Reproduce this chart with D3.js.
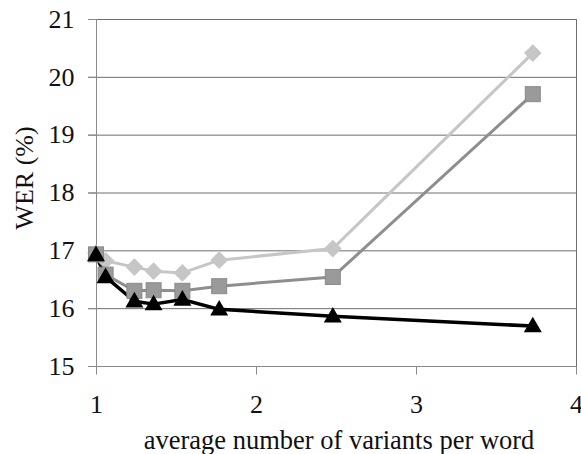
<!DOCTYPE html>
<html>
<head>
<meta charset="utf-8">
<script src="https://cdn.jsdelivr.net/npm/d3@7"></script>
<style>
html,body{margin:0;padding:0;background:#fff;}
svg{display:block;}
</style>
</head>
<body>
<svg id="chart" width="581" height="454"></svg>
<script>
const xValues = [1.0, 1.06, 1.24, 1.36, 1.54, 1.77, 2.48, 3.73];
const diamondValues = [16.95, 16.82, 16.71, 16.64, 16.61, 16.83, 17.03, 20.41];
const squareValues = [16.93, 16.58, 16.30, 16.31, 16.30, 16.38, 16.54, 19.70];
const triangleValues = [16.92, 16.54, 16.12, 16.07, 16.15, 15.98, 15.86, 15.69];
const xTicks = [1, 2, 3, 4];
const yTicks = [15, 16, 17, 18, 19, 20, 21];
const xTitle = "average number of variants per word";
const yTitle = "WER (%)";

(function () {
const FONT = '"Liberation Serif"';
const svg = d3.select("#chart");
const pLeft = 96, pRight = 576, pTop = 19, pBottom = 366;
const x = d3.scaleLinear().domain([1, 4]).range([pLeft, pRight]);
const y = d3.scaleLinear().domain([15, 21]).range([pBottom, pTop]);

// gridlines
svg.append("g").selectAll("line").data(yTicks.filter(d => d > 15)).join("line")
  .attr("x1", pLeft - 8).attr("x2", pRight)
  .attr("y1", d => y(d) + 0.5).attr("y2", d => y(d) + 0.5)
  .attr("stroke", "#6e6e6e").attr("stroke-width", 1);

// right border
svg.append("line").attr("x1", pRight + 0.5).attr("x2", pRight + 0.5)
  .attr("y1", pTop).attr("y2", pBottom + 8).attr("stroke", "#6e6e6e");

// y axis
const yAxis = svg.append("g").attr("transform", `translate(${pLeft + 0.5},0)`)
  .call(d3.axisLeft(y).tickValues(yTicks).tickSize(8).tickPadding(14).tickFormat(d3.format("d")));
yAxis.attr("font-family", null).attr("font-size", null);
yAxis.select(".domain").attr("stroke", "#8a8a8a").attr("d", `M0,${pTop}V${pBottom + 8}`);
yAxis.selectAll(".tick line").attr("stroke", "#8a8a8a");
yAxis.selectAll("text").style("font-family", FONT).style("font-size", "26px").attr("fill", "#111");

// x axis
const xAxis = svg.append("g").attr("transform", `translate(0,${pBottom + 0.5})`)
  .call(d3.axisBottom(x).tickValues(xTicks).tickSize(8).tickPadding(20).tickFormat(d3.format("d")));
xAxis.attr("font-family", null).attr("font-size", null);
xAxis.select(".domain").attr("stroke", "#8a8a8a").attr("d", `M${pLeft - 8},0H${pRight}`);
xAxis.selectAll(".tick line").attr("stroke", "#8a8a8a");
xAxis.selectAll("text").style("font-family", FONT).style("font-size", "26px").attr("fill", "#111");

// titles
svg.append("text").attr("x", 339).attr("y", 449).attr("text-anchor", "middle")
  .style("font-family", FONT).style("font-size", "26.5px").attr("fill", "#111").text(xTitle);
svg.append("text").attr("transform", "translate(33,178) rotate(-90)").attr("text-anchor", "middle")
  .style("font-family", FONT).style("font-size", "26px").attr("fill", "#111").text(yTitle);

const line = d3.line().x(d => x(d[0])).y(d => y(d[1]));
function series(vals, color, lw) {
  const pts = xValues.map((xv, i) => [xv, vals[i]]);
  svg.append("path").datum(pts).attr("d", line).attr("fill", "none")
    .attr("stroke", color).attr("stroke-width", lw).attr("stroke-linejoin", "round");
  return pts;
}

const dPts = series(diamondValues, "#c6c6c6", 3);
const sPts = series(squareValues, "#8e8e8e", 3);
const tPts = series(triangleValues, "#000", 3.5);

svg.append("g").selectAll("path").data(dPts).join("path")
  .attr("d", d3.symbol(d3.symbolDiamond2, 200))
  .attr("transform", d => `translate(${x(d[0])},${y(d[1])})`)
  .attr("fill", "#c6c6c6");
svg.append("g").selectAll("rect").data(sPts).join("rect")
  .attr("x", d => x(d[0]) - 7.5).attr("y", d => y(d[1]) - 7.5)
  .attr("width", 15).attr("height", 15)
  .attr("fill", "#9a9a9a").attr("stroke", "#8a8a8a").attr("stroke-width", 1);
svg.append("g").selectAll("path").data(tPts).join("path")
  .attr("d", d3.symbol(d3.symbolTriangle, 140))
  .attr("transform", d => `translate(${x(d[0])},${y(d[1]) + 1})`)
  .attr("fill", "#000");
})();
</script>
</body>
</html>
